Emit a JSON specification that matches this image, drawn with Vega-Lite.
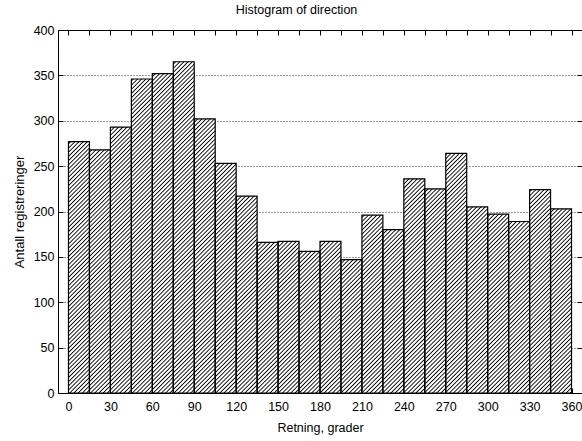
{
  "$schema": "https://vega.github.io/schema/vega-lite/v6.json",
  "width": 524,
  "height": 363,
  "autosize": {"type": "none"},
  "padding": {"left": 58, "top": 30, "right": 0, "bottom": 48},
  "background": "white",
  "title": {"text": "Histogram of direction", "font": "Liberation Sans", "fontSize": 12.5, "fontWeight": "normal", "color": "#000", "anchor": "middle", "dx": -23.5, "baseline": "alphabetic", "offset": -2},
  "config": {
    "view": {"stroke": null},
    "axis": {"labelFont": "Liberation Sans", "labelFontSize": 12.5, "labelColor": "#000", "titleFont": "Liberation Sans", "titleFontSize": 12.5, "titleFontWeight": "normal", "titleColor": "#000", "domainColor": "#000", "tickColor": "#000", "domainWidth": 1, "tickWidth": 1}
  },
  "data": {"values": [
    {"start": 0, "end": 15, "count": 277},
    {"start": 15, "end": 30, "count": 268},
    {"start": 30, "end": 45, "count": 293},
    {"start": 45, "end": 60, "count": 346},
    {"start": 60, "end": 75, "count": 352},
    {"start": 75, "end": 90, "count": 365},
    {"start": 90, "end": 105, "count": 302},
    {"start": 105, "end": 120, "count": 253},
    {"start": 120, "end": 135, "count": 217},
    {"start": 135, "end": 150, "count": 166},
    {"start": 150, "end": 165, "count": 167},
    {"start": 165, "end": 180, "count": 156},
    {"start": 180, "end": 195, "count": 167},
    {"start": 195, "end": 210, "count": 147},
    {"start": 210, "end": 225, "count": 196},
    {"start": 225, "end": 240, "count": 180},
    {"start": 240, "end": 255, "count": 236},
    {"start": 255, "end": 270, "count": 225},
    {"start": 270, "end": 285, "count": 264},
    {"start": 285, "end": 300, "count": 205},
    {"start": 300, "end": 315, "count": 197},
    {"start": 315, "end": 330, "count": 189},
    {"start": 330, "end": 345, "count": 224},
    {"start": 345, "end": 360, "count": 203}
  ]},
  "layer": [
    {
      "transform": [{"fold": ["start", "end"], "as": ["edgeType", "edge"]}],
      "mark": {"type": "area", "interpolate": "linear", "fill": {"gradient": "linear", "x1": 0, "y1": 0, "x2": 1.1569, "y2": 0.7617, "stops": [
{"offset":0.00,"color":"#fff"},{"offset":0.002,"color":"#fff"},{"offset":0.0035,"color":"#000"},{"offset":0.005,"color":"#fff"},{"offset":0.007,"color":"#fff"},{"offset":0.0085,"color":"#000"},
{"offset":0.01,"color":"#fff"},{"offset":0.012,"color":"#fff"},{"offset":0.0135,"color":"#000"},{"offset":0.015,"color":"#fff"},{"offset":0.017,"color":"#fff"},{"offset":0.0185,"color":"#000"},
{"offset":0.02,"color":"#fff"},{"offset":0.022,"color":"#fff"},{"offset":0.0235,"color":"#000"},{"offset":0.025,"color":"#fff"},{"offset":0.027,"color":"#fff"},{"offset":0.0285,"color":"#000"},
{"offset":0.03,"color":"#fff"},{"offset":0.032,"color":"#fff"},{"offset":0.0335,"color":"#000"},{"offset":0.035,"color":"#fff"},{"offset":0.037,"color":"#fff"},{"offset":0.0385,"color":"#000"},
{"offset":0.04,"color":"#fff"},{"offset":0.042,"color":"#fff"},{"offset":0.0435,"color":"#000"},{"offset":0.045,"color":"#fff"},{"offset":0.047,"color":"#fff"},{"offset":0.0485,"color":"#000"},
{"offset":0.05,"color":"#fff"},{"offset":0.052,"color":"#fff"},{"offset":0.0535,"color":"#000"},{"offset":0.055,"color":"#fff"},{"offset":0.057,"color":"#fff"},{"offset":0.0585,"color":"#000"},
{"offset":0.06,"color":"#fff"},{"offset":0.062,"color":"#fff"},{"offset":0.0635,"color":"#000"},{"offset":0.065,"color":"#fff"},{"offset":0.067,"color":"#fff"},{"offset":0.0685,"color":"#000"},
{"offset":0.07,"color":"#fff"},{"offset":0.072,"color":"#fff"},{"offset":0.0735,"color":"#000"},{"offset":0.075,"color":"#fff"},{"offset":0.077,"color":"#fff"},{"offset":0.0785,"color":"#000"},
{"offset":0.08,"color":"#fff"},{"offset":0.082,"color":"#fff"},{"offset":0.0835,"color":"#000"},{"offset":0.085,"color":"#fff"},{"offset":0.087,"color":"#fff"},{"offset":0.0885,"color":"#000"},
{"offset":0.09,"color":"#fff"},{"offset":0.092,"color":"#fff"},{"offset":0.0935,"color":"#000"},{"offset":0.095,"color":"#fff"},{"offset":0.097,"color":"#fff"},{"offset":0.0985,"color":"#000"},
{"offset":0.10,"color":"#fff"},{"offset":0.102,"color":"#fff"},{"offset":0.1035,"color":"#000"},{"offset":0.105,"color":"#fff"},{"offset":0.107,"color":"#fff"},{"offset":0.1085,"color":"#000"},
{"offset":0.11,"color":"#fff"},{"offset":0.112,"color":"#fff"},{"offset":0.1135,"color":"#000"},{"offset":0.115,"color":"#fff"},{"offset":0.117,"color":"#fff"},{"offset":0.1185,"color":"#000"},
{"offset":0.12,"color":"#fff"},{"offset":0.122,"color":"#fff"},{"offset":0.1235,"color":"#000"},{"offset":0.125,"color":"#fff"},{"offset":0.127,"color":"#fff"},{"offset":0.1285,"color":"#000"},
{"offset":0.13,"color":"#fff"},{"offset":0.132,"color":"#fff"},{"offset":0.1335,"color":"#000"},{"offset":0.135,"color":"#fff"},{"offset":0.137,"color":"#fff"},{"offset":0.1385,"color":"#000"},
{"offset":0.14,"color":"#fff"},{"offset":0.142,"color":"#fff"},{"offset":0.1435,"color":"#000"},{"offset":0.145,"color":"#fff"},{"offset":0.147,"color":"#fff"},{"offset":0.1485,"color":"#000"},
{"offset":0.15,"color":"#fff"},{"offset":0.152,"color":"#fff"},{"offset":0.1535,"color":"#000"},{"offset":0.155,"color":"#fff"},{"offset":0.157,"color":"#fff"},{"offset":0.1585,"color":"#000"},
{"offset":0.16,"color":"#fff"},{"offset":0.162,"color":"#fff"},{"offset":0.1635,"color":"#000"},{"offset":0.165,"color":"#fff"},{"offset":0.167,"color":"#fff"},{"offset":0.1685,"color":"#000"},
{"offset":0.17,"color":"#fff"},{"offset":0.172,"color":"#fff"},{"offset":0.1735,"color":"#000"},{"offset":0.175,"color":"#fff"},{"offset":0.177,"color":"#fff"},{"offset":0.1785,"color":"#000"},
{"offset":0.18,"color":"#fff"},{"offset":0.182,"color":"#fff"},{"offset":0.1835,"color":"#000"},{"offset":0.185,"color":"#fff"},{"offset":0.187,"color":"#fff"},{"offset":0.1885,"color":"#000"},
{"offset":0.19,"color":"#fff"},{"offset":0.192,"color":"#fff"},{"offset":0.1935,"color":"#000"},{"offset":0.195,"color":"#fff"},{"offset":0.197,"color":"#fff"},{"offset":0.1985,"color":"#000"},
{"offset":0.20,"color":"#fff"},{"offset":0.202,"color":"#fff"},{"offset":0.2035,"color":"#000"},{"offset":0.205,"color":"#fff"},{"offset":0.207,"color":"#fff"},{"offset":0.2085,"color":"#000"},
{"offset":0.21,"color":"#fff"},{"offset":0.212,"color":"#fff"},{"offset":0.2135,"color":"#000"},{"offset":0.215,"color":"#fff"},{"offset":0.217,"color":"#fff"},{"offset":0.2185,"color":"#000"},
{"offset":0.22,"color":"#fff"},{"offset":0.222,"color":"#fff"},{"offset":0.2235,"color":"#000"},{"offset":0.225,"color":"#fff"},{"offset":0.227,"color":"#fff"},{"offset":0.2285,"color":"#000"},
{"offset":0.23,"color":"#fff"},{"offset":0.232,"color":"#fff"},{"offset":0.2335,"color":"#000"},{"offset":0.235,"color":"#fff"},{"offset":0.237,"color":"#fff"},{"offset":0.2385,"color":"#000"},
{"offset":0.24,"color":"#fff"},{"offset":0.242,"color":"#fff"},{"offset":0.2435,"color":"#000"},{"offset":0.245,"color":"#fff"},{"offset":0.247,"color":"#fff"},{"offset":0.2485,"color":"#000"},
{"offset":0.25,"color":"#fff"},{"offset":0.252,"color":"#fff"},{"offset":0.2535,"color":"#000"},{"offset":0.255,"color":"#fff"},{"offset":0.257,"color":"#fff"},{"offset":0.2585,"color":"#000"},
{"offset":0.26,"color":"#fff"},{"offset":0.262,"color":"#fff"},{"offset":0.2635,"color":"#000"},{"offset":0.265,"color":"#fff"},{"offset":0.267,"color":"#fff"},{"offset":0.2685,"color":"#000"},
{"offset":0.27,"color":"#fff"},{"offset":0.272,"color":"#fff"},{"offset":0.2735,"color":"#000"},{"offset":0.275,"color":"#fff"},{"offset":0.277,"color":"#fff"},{"offset":0.2785,"color":"#000"},
{"offset":0.28,"color":"#fff"},{"offset":0.282,"color":"#fff"},{"offset":0.2835,"color":"#000"},{"offset":0.285,"color":"#fff"},{"offset":0.287,"color":"#fff"},{"offset":0.2885,"color":"#000"},
{"offset":0.29,"color":"#fff"},{"offset":0.292,"color":"#fff"},{"offset":0.2935,"color":"#000"},{"offset":0.295,"color":"#fff"},{"offset":0.297,"color":"#fff"},{"offset":0.2985,"color":"#000"},
{"offset":0.30,"color":"#fff"},{"offset":0.302,"color":"#fff"},{"offset":0.3035,"color":"#000"},{"offset":0.305,"color":"#fff"},{"offset":0.307,"color":"#fff"},{"offset":0.3085,"color":"#000"},
{"offset":0.31,"color":"#fff"},{"offset":0.312,"color":"#fff"},{"offset":0.3135,"color":"#000"},{"offset":0.315,"color":"#fff"},{"offset":0.317,"color":"#fff"},{"offset":0.3185,"color":"#000"},
{"offset":0.32,"color":"#fff"},{"offset":0.322,"color":"#fff"},{"offset":0.3235,"color":"#000"},{"offset":0.325,"color":"#fff"},{"offset":0.327,"color":"#fff"},{"offset":0.3285,"color":"#000"},
{"offset":0.33,"color":"#fff"},{"offset":0.332,"color":"#fff"},{"offset":0.3335,"color":"#000"},{"offset":0.335,"color":"#fff"},{"offset":0.337,"color":"#fff"},{"offset":0.3385,"color":"#000"},
{"offset":0.34,"color":"#fff"},{"offset":0.342,"color":"#fff"},{"offset":0.3435,"color":"#000"},{"offset":0.345,"color":"#fff"},{"offset":0.347,"color":"#fff"},{"offset":0.3485,"color":"#000"},
{"offset":0.35,"color":"#fff"},{"offset":0.352,"color":"#fff"},{"offset":0.3535,"color":"#000"},{"offset":0.355,"color":"#fff"},{"offset":0.357,"color":"#fff"},{"offset":0.3585,"color":"#000"},
{"offset":0.36,"color":"#fff"},{"offset":0.362,"color":"#fff"},{"offset":0.3635,"color":"#000"},{"offset":0.365,"color":"#fff"},{"offset":0.367,"color":"#fff"},{"offset":0.3685,"color":"#000"},
{"offset":0.37,"color":"#fff"},{"offset":0.372,"color":"#fff"},{"offset":0.3735,"color":"#000"},{"offset":0.375,"color":"#fff"},{"offset":0.377,"color":"#fff"},{"offset":0.3785,"color":"#000"},
{"offset":0.38,"color":"#fff"},{"offset":0.382,"color":"#fff"},{"offset":0.3835,"color":"#000"},{"offset":0.385,"color":"#fff"},{"offset":0.387,"color":"#fff"},{"offset":0.3885,"color":"#000"},
{"offset":0.39,"color":"#fff"},{"offset":0.392,"color":"#fff"},{"offset":0.3935,"color":"#000"},{"offset":0.395,"color":"#fff"},{"offset":0.397,"color":"#fff"},{"offset":0.3985,"color":"#000"},
{"offset":0.40,"color":"#fff"},{"offset":0.402,"color":"#fff"},{"offset":0.4035,"color":"#000"},{"offset":0.405,"color":"#fff"},{"offset":0.407,"color":"#fff"},{"offset":0.4085,"color":"#000"},
{"offset":0.41,"color":"#fff"},{"offset":0.412,"color":"#fff"},{"offset":0.4135,"color":"#000"},{"offset":0.415,"color":"#fff"},{"offset":0.417,"color":"#fff"},{"offset":0.4185,"color":"#000"},
{"offset":0.42,"color":"#fff"},{"offset":0.422,"color":"#fff"},{"offset":0.4235,"color":"#000"},{"offset":0.425,"color":"#fff"},{"offset":0.427,"color":"#fff"},{"offset":0.4285,"color":"#000"},
{"offset":0.43,"color":"#fff"},{"offset":0.432,"color":"#fff"},{"offset":0.4335,"color":"#000"},{"offset":0.435,"color":"#fff"},{"offset":0.437,"color":"#fff"},{"offset":0.4385,"color":"#000"},
{"offset":0.44,"color":"#fff"},{"offset":0.442,"color":"#fff"},{"offset":0.4435,"color":"#000"},{"offset":0.445,"color":"#fff"},{"offset":0.447,"color":"#fff"},{"offset":0.4485,"color":"#000"},
{"offset":0.45,"color":"#fff"},{"offset":0.452,"color":"#fff"},{"offset":0.4535,"color":"#000"},{"offset":0.455,"color":"#fff"},{"offset":0.457,"color":"#fff"},{"offset":0.4585,"color":"#000"},
{"offset":0.46,"color":"#fff"},{"offset":0.462,"color":"#fff"},{"offset":0.4635,"color":"#000"},{"offset":0.465,"color":"#fff"},{"offset":0.467,"color":"#fff"},{"offset":0.4685,"color":"#000"},
{"offset":0.47,"color":"#fff"},{"offset":0.472,"color":"#fff"},{"offset":0.4735,"color":"#000"},{"offset":0.475,"color":"#fff"},{"offset":0.477,"color":"#fff"},{"offset":0.4785,"color":"#000"},
{"offset":0.48,"color":"#fff"},{"offset":0.482,"color":"#fff"},{"offset":0.4835,"color":"#000"},{"offset":0.485,"color":"#fff"},{"offset":0.487,"color":"#fff"},{"offset":0.4885,"color":"#000"},
{"offset":0.49,"color":"#fff"},{"offset":0.492,"color":"#fff"},{"offset":0.4935,"color":"#000"},{"offset":0.495,"color":"#fff"},{"offset":0.497,"color":"#fff"},{"offset":0.4985,"color":"#000"},
{"offset":0.50,"color":"#fff"},{"offset":0.502,"color":"#fff"},{"offset":0.5035,"color":"#000"},{"offset":0.505,"color":"#fff"},{"offset":0.507,"color":"#fff"},{"offset":0.5085,"color":"#000"},
{"offset":0.51,"color":"#fff"},{"offset":0.512,"color":"#fff"},{"offset":0.5135,"color":"#000"},{"offset":0.515,"color":"#fff"},{"offset":0.517,"color":"#fff"},{"offset":0.5185,"color":"#000"},
{"offset":0.52,"color":"#fff"},{"offset":0.522,"color":"#fff"},{"offset":0.5235,"color":"#000"},{"offset":0.525,"color":"#fff"},{"offset":0.527,"color":"#fff"},{"offset":0.5285,"color":"#000"},
{"offset":0.53,"color":"#fff"},{"offset":0.532,"color":"#fff"},{"offset":0.5335,"color":"#000"},{"offset":0.535,"color":"#fff"},{"offset":0.537,"color":"#fff"},{"offset":0.5385,"color":"#000"},
{"offset":0.54,"color":"#fff"},{"offset":0.542,"color":"#fff"},{"offset":0.5435,"color":"#000"},{"offset":0.545,"color":"#fff"},{"offset":0.547,"color":"#fff"},{"offset":0.5485,"color":"#000"},
{"offset":0.55,"color":"#fff"},{"offset":0.552,"color":"#fff"},{"offset":0.5535,"color":"#000"},{"offset":0.555,"color":"#fff"},{"offset":0.557,"color":"#fff"},{"offset":0.5585,"color":"#000"},
{"offset":0.56,"color":"#fff"},{"offset":0.562,"color":"#fff"},{"offset":0.5635,"color":"#000"},{"offset":0.565,"color":"#fff"},{"offset":0.567,"color":"#fff"},{"offset":0.5685,"color":"#000"},
{"offset":0.57,"color":"#fff"},{"offset":0.572,"color":"#fff"},{"offset":0.5735,"color":"#000"},{"offset":0.575,"color":"#fff"},{"offset":0.577,"color":"#fff"},{"offset":0.5785,"color":"#000"},
{"offset":0.58,"color":"#fff"},{"offset":0.582,"color":"#fff"},{"offset":0.5835,"color":"#000"},{"offset":0.585,"color":"#fff"},{"offset":0.587,"color":"#fff"},{"offset":0.5885,"color":"#000"},
{"offset":0.59,"color":"#fff"},{"offset":0.592,"color":"#fff"},{"offset":0.5935,"color":"#000"},{"offset":0.595,"color":"#fff"},{"offset":0.597,"color":"#fff"},{"offset":0.5985,"color":"#000"},
{"offset":0.60,"color":"#fff"},{"offset":0.602,"color":"#fff"},{"offset":0.6035,"color":"#000"},{"offset":0.605,"color":"#fff"},{"offset":0.607,"color":"#fff"},{"offset":0.6085,"color":"#000"},
{"offset":0.61,"color":"#fff"},{"offset":0.612,"color":"#fff"},{"offset":0.6135,"color":"#000"},{"offset":0.615,"color":"#fff"},{"offset":0.617,"color":"#fff"},{"offset":0.6185,"color":"#000"},
{"offset":0.62,"color":"#fff"},{"offset":0.622,"color":"#fff"},{"offset":0.6235,"color":"#000"},{"offset":0.625,"color":"#fff"},{"offset":0.627,"color":"#fff"},{"offset":0.6285,"color":"#000"},
{"offset":0.63,"color":"#fff"},{"offset":0.632,"color":"#fff"},{"offset":0.6335,"color":"#000"},{"offset":0.635,"color":"#fff"},{"offset":0.637,"color":"#fff"},{"offset":0.6385,"color":"#000"},
{"offset":0.64,"color":"#fff"},{"offset":0.642,"color":"#fff"},{"offset":0.6435,"color":"#000"},{"offset":0.645,"color":"#fff"},{"offset":0.647,"color":"#fff"},{"offset":0.6485,"color":"#000"},
{"offset":0.65,"color":"#fff"},{"offset":0.652,"color":"#fff"},{"offset":0.6535,"color":"#000"},{"offset":0.655,"color":"#fff"},{"offset":0.657,"color":"#fff"},{"offset":0.6585,"color":"#000"},
{"offset":0.66,"color":"#fff"},{"offset":0.662,"color":"#fff"},{"offset":0.6635,"color":"#000"},{"offset":0.665,"color":"#fff"},{"offset":0.667,"color":"#fff"},{"offset":0.6685,"color":"#000"},
{"offset":0.67,"color":"#fff"},{"offset":0.672,"color":"#fff"},{"offset":0.6735,"color":"#000"},{"offset":0.675,"color":"#fff"},{"offset":0.677,"color":"#fff"},{"offset":0.6785,"color":"#000"},
{"offset":0.68,"color":"#fff"},{"offset":0.682,"color":"#fff"},{"offset":0.6835,"color":"#000"},{"offset":0.685,"color":"#fff"},{"offset":0.687,"color":"#fff"},{"offset":0.6885,"color":"#000"},
{"offset":0.69,"color":"#fff"},{"offset":0.692,"color":"#fff"},{"offset":0.6935,"color":"#000"},{"offset":0.695,"color":"#fff"},{"offset":0.697,"color":"#fff"},{"offset":0.6985,"color":"#000"},
{"offset":0.70,"color":"#fff"},{"offset":0.702,"color":"#fff"},{"offset":0.7035,"color":"#000"},{"offset":0.705,"color":"#fff"},{"offset":0.707,"color":"#fff"},{"offset":0.7085,"color":"#000"},
{"offset":0.71,"color":"#fff"},{"offset":0.712,"color":"#fff"},{"offset":0.7135,"color":"#000"},{"offset":0.715,"color":"#fff"},{"offset":0.717,"color":"#fff"},{"offset":0.7185,"color":"#000"},
{"offset":0.72,"color":"#fff"},{"offset":0.722,"color":"#fff"},{"offset":0.7235,"color":"#000"},{"offset":0.725,"color":"#fff"},{"offset":0.727,"color":"#fff"},{"offset":0.7285,"color":"#000"},
{"offset":0.73,"color":"#fff"},{"offset":0.732,"color":"#fff"},{"offset":0.7335,"color":"#000"},{"offset":0.735,"color":"#fff"},{"offset":0.737,"color":"#fff"},{"offset":0.7385,"color":"#000"},
{"offset":0.74,"color":"#fff"},{"offset":0.742,"color":"#fff"},{"offset":0.7435,"color":"#000"},{"offset":0.745,"color":"#fff"},{"offset":0.747,"color":"#fff"},{"offset":0.7485,"color":"#000"},
{"offset":0.75,"color":"#fff"},{"offset":0.752,"color":"#fff"},{"offset":0.7535,"color":"#000"},{"offset":0.755,"color":"#fff"},{"offset":0.757,"color":"#fff"},{"offset":0.7585,"color":"#000"},
{"offset":0.76,"color":"#fff"},{"offset":0.762,"color":"#fff"},{"offset":0.7635,"color":"#000"},{"offset":0.765,"color":"#fff"},{"offset":0.767,"color":"#fff"},{"offset":0.7685,"color":"#000"},
{"offset":0.77,"color":"#fff"},{"offset":0.772,"color":"#fff"},{"offset":0.7735,"color":"#000"},{"offset":0.775,"color":"#fff"},{"offset":0.777,"color":"#fff"},{"offset":0.7785,"color":"#000"},
{"offset":0.78,"color":"#fff"},{"offset":0.782,"color":"#fff"},{"offset":0.7835,"color":"#000"},{"offset":0.785,"color":"#fff"},{"offset":0.787,"color":"#fff"},{"offset":0.7885,"color":"#000"},
{"offset":0.79,"color":"#fff"},{"offset":0.792,"color":"#fff"},{"offset":0.7935,"color":"#000"},{"offset":0.795,"color":"#fff"},{"offset":0.797,"color":"#fff"},{"offset":0.7985,"color":"#000"},
{"offset":0.80,"color":"#fff"},{"offset":0.802,"color":"#fff"},{"offset":0.8035,"color":"#000"},{"offset":0.805,"color":"#fff"},{"offset":0.807,"color":"#fff"},{"offset":0.8085,"color":"#000"},
{"offset":0.81,"color":"#fff"},{"offset":0.812,"color":"#fff"},{"offset":0.8135,"color":"#000"},{"offset":0.815,"color":"#fff"},{"offset":0.817,"color":"#fff"},{"offset":0.8185,"color":"#000"},
{"offset":0.82,"color":"#fff"},{"offset":0.822,"color":"#fff"},{"offset":0.8235,"color":"#000"},{"offset":0.825,"color":"#fff"},{"offset":0.827,"color":"#fff"},{"offset":0.8285,"color":"#000"},
{"offset":0.83,"color":"#fff"},{"offset":0.832,"color":"#fff"},{"offset":0.8335,"color":"#000"},{"offset":0.835,"color":"#fff"},{"offset":0.837,"color":"#fff"},{"offset":0.8385,"color":"#000"},
{"offset":0.84,"color":"#fff"},{"offset":0.842,"color":"#fff"},{"offset":0.8435,"color":"#000"},{"offset":0.845,"color":"#fff"},{"offset":0.847,"color":"#fff"},{"offset":0.8485,"color":"#000"},
{"offset":0.85,"color":"#fff"},{"offset":0.852,"color":"#fff"},{"offset":0.8535,"color":"#000"},{"offset":0.855,"color":"#fff"},{"offset":0.857,"color":"#fff"},{"offset":0.8585,"color":"#000"},
{"offset":0.86,"color":"#fff"},{"offset":0.862,"color":"#fff"},{"offset":0.8635,"color":"#000"},{"offset":0.865,"color":"#fff"},{"offset":0.867,"color":"#fff"},{"offset":0.8685,"color":"#000"},
{"offset":0.87,"color":"#fff"},{"offset":0.872,"color":"#fff"},{"offset":0.8735,"color":"#000"},{"offset":0.875,"color":"#fff"},{"offset":0.877,"color":"#fff"},{"offset":0.8785,"color":"#000"},
{"offset":0.88,"color":"#fff"},{"offset":0.882,"color":"#fff"},{"offset":0.8835,"color":"#000"},{"offset":0.885,"color":"#fff"},{"offset":0.887,"color":"#fff"},{"offset":0.8885,"color":"#000"},
{"offset":0.89,"color":"#fff"},{"offset":0.892,"color":"#fff"},{"offset":0.8935,"color":"#000"},{"offset":0.895,"color":"#fff"},{"offset":0.897,"color":"#fff"},{"offset":0.8985,"color":"#000"},
{"offset":0.90,"color":"#fff"},{"offset":0.902,"color":"#fff"},{"offset":0.9035,"color":"#000"},{"offset":0.905,"color":"#fff"},{"offset":0.907,"color":"#fff"},{"offset":0.9085,"color":"#000"},
{"offset":0.91,"color":"#fff"},{"offset":0.912,"color":"#fff"},{"offset":0.9135,"color":"#000"},{"offset":0.915,"color":"#fff"},{"offset":0.917,"color":"#fff"},{"offset":0.9185,"color":"#000"},
{"offset":0.92,"color":"#fff"},{"offset":0.922,"color":"#fff"},{"offset":0.9235,"color":"#000"},{"offset":0.925,"color":"#fff"},{"offset":0.927,"color":"#fff"},{"offset":0.9285,"color":"#000"},
{"offset":0.93,"color":"#fff"},{"offset":0.932,"color":"#fff"},{"offset":0.9335,"color":"#000"},{"offset":0.935,"color":"#fff"},{"offset":0.937,"color":"#fff"},{"offset":0.9385,"color":"#000"},
{"offset":0.94,"color":"#fff"},{"offset":0.942,"color":"#fff"},{"offset":0.9435,"color":"#000"},{"offset":0.945,"color":"#fff"},{"offset":0.947,"color":"#fff"},{"offset":0.9485,"color":"#000"},
{"offset":0.95,"color":"#fff"},{"offset":0.952,"color":"#fff"},{"offset":0.9535,"color":"#000"},{"offset":0.955,"color":"#fff"},{"offset":0.957,"color":"#fff"},{"offset":0.9585,"color":"#000"},
{"offset":0.96,"color":"#fff"},{"offset":0.962,"color":"#fff"},{"offset":0.9635,"color":"#000"},{"offset":0.965,"color":"#fff"},{"offset":0.967,"color":"#fff"},{"offset":0.9685,"color":"#000"},
{"offset":0.97,"color":"#fff"},{"offset":0.972,"color":"#fff"},{"offset":0.9735,"color":"#000"},{"offset":0.975,"color":"#fff"},{"offset":0.977,"color":"#fff"},{"offset":0.9785,"color":"#000"},
{"offset":0.98,"color":"#fff"},{"offset":0.982,"color":"#fff"},{"offset":0.9835,"color":"#000"},{"offset":0.985,"color":"#fff"},{"offset":0.987,"color":"#fff"},{"offset":0.9885,"color":"#000"},
{"offset":0.99,"color":"#fff"},{"offset":0.992,"color":"#fff"},{"offset":0.9935,"color":"#000"},{"offset":0.995,"color":"#fff"},{"offset":0.997,"color":"#fff"},{"offset":0.9985,"color":"#000"},
{"offset":1,"color":"#fff"}
      ]}},
      "encoding": {
        "x": {"field": "edge", "type": "quantitative", "scale": {"domain": [-7.5, 367.5], "nice": false, "zero": false},
          "axis": {"orient": "bottom", "values": [0,15,30,45,60,75,90,105,120,135,150,165,180,195,210,225,240,255,270,285,300,315,330,345,360], "labelExpr": "datum.value % 30 === 0 ? datum.label : ''", "tickSize": -5, "labelPadding": 12, "labelFlush": false, "labelOverlap": false, "grid": false, "title": "Retning, grader", "titlePadding": 9}},
        "y": {"field": "count", "type": "quantitative", "stack": null, "scale": {"domain": [0, 400], "nice": false},
          "axis": {"orient": "left", "values": [0,50,100,150,200,250,300,350,400], "tickSize": -5, "labelPadding": 9, "grid": true, "gridColor": "#333", "gridDash": [1, 2], "gridWidth": 1, "gridOpacity": 1, "title": "Antall registreringer", "titleFontSize": 13, "titlePadding": 7}}
      }
    },
    {
      "mark": {"type": "bar", "fill": "transparent", "stroke": "#000", "strokeWidth": 1.2},
      "encoding": {
        "x": {"field": "start", "type": "quantitative",
          "axis": {"orient": "top", "values": [0,15,30,45,60,75,90,105,120,135,150,165,180,195,210,225,240,255,270,285,300,315,330,345,360], "tickSize": -5, "labels": false, "grid": false, "title": null}},
        "x2": {"field": "end"},
        "y": {"field": "count", "type": "quantitative",
          "axis": {"orient": "right", "values": [0,50,100,150,200,250,300,350,400], "tickSize": -5, "labels": false, "domain": false, "grid": false, "title": null}},
        "y2": {"datum": 0}
      }
    }
  ],
  "resolve": {"axis": {"x": "independent", "y": "independent"}}
}
